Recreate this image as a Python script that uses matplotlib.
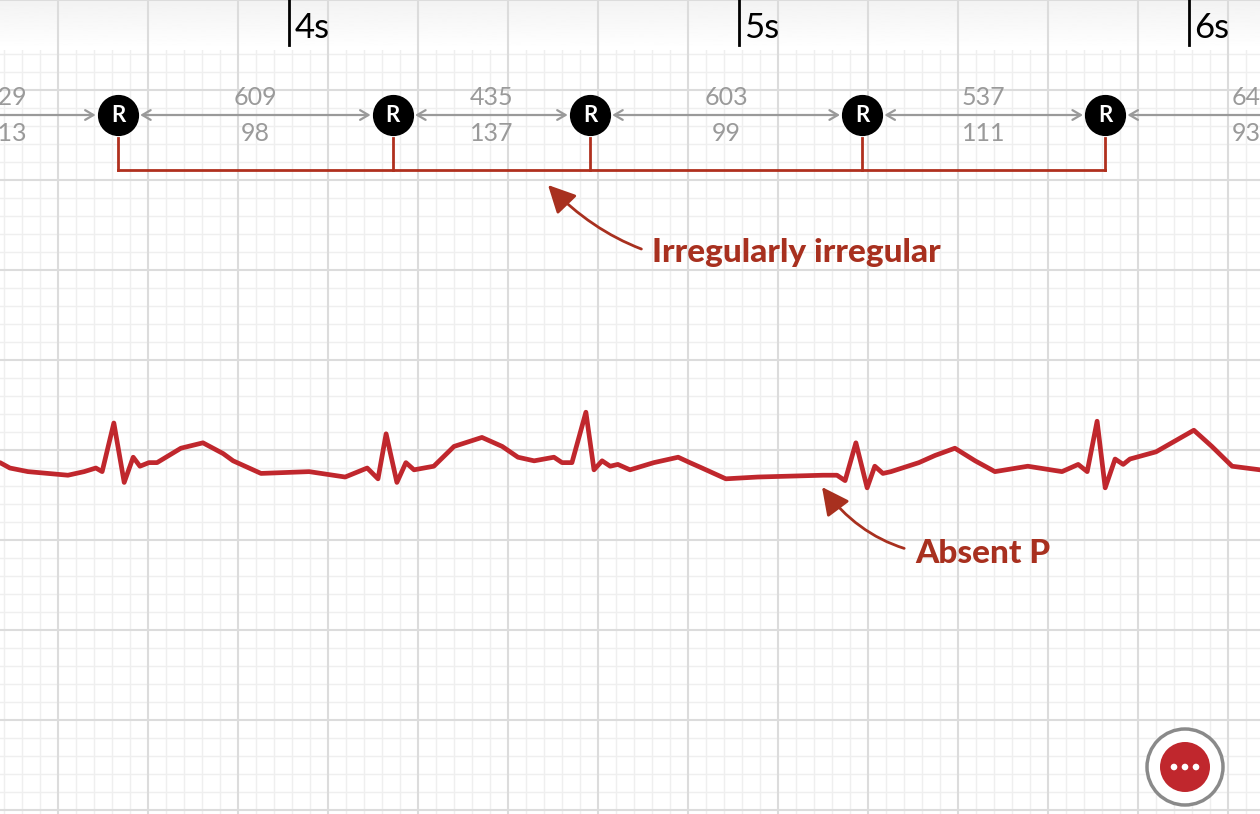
import matplotlib
matplotlib.use("Agg")
import matplotlib.pyplot as plt
import numpy as np

# ---- data ----
trace_t = [3.358,3.380,3.420,3.509,3.545,3.571,3.585,3.611,3.634,3.654,3.669,3.689,3.707,3.760,3.809,3.854,3.876,3.938,
           4.045,4.125,4.174,4.198,4.216,4.240,4.260,4.278,4.322,4.367,4.429,4.474,4.509,4.545,4.589,4.607,4.629,4.660,
           4.678,4.696,4.714,4.731,4.758,4.811,4.865,4.891,4.918,4.971,5.042,5.187,5.218,5.236,5.260,5.285,5.302,5.320,
           5.338,5.400,5.436,5.480,5.525,5.569,5.642,5.718,5.754,5.774,5.796,5.814,5.836,5.854,5.869,5.927,5.962,6.011,
           6.051,6.096,6.158]
trace_mv = [0.03,0.00,-0.02,-0.04,-0.02,0.00,-0.02,0.25,-0.08,0.06,0.01,0.03,0.03,0.11,0.14,0.08,0.04,-0.03,
            -0.02,-0.05,0.00,-0.06,0.19,-0.08,0.03,-0.01,0.01,0.12,0.17,0.12,0.06,0.04,0.06,0.03,0.03,0.31,
            -0.01,0.04,0.01,0.02,-0.01,0.03,0.06,0.03,0.00,-0.06,-0.05,-0.04,-0.04,-0.07,0.14,-0.11,0.01,-0.03,
            -0.02,0.03,0.07,0.11,0.04,-0.02,0.01,-0.02,0.02,-0.02,0.26,-0.11,0.05,0.02,0.05,0.09,0.14,0.21,
            0.12,0.01,-0.01]
r_times = [3.620, 4.231, 4.669, 5.274, 5.814]
interval_ms = ["609", "435", "603", "537"]
interval_bpm = ["98", "137", "99", "111"]
left_ms, left_bpm = "529", "113"
right_ms, right_bpm = "649", "93"
sec_ticks = [4, 5, 6]
sec_labels = ["4s", "5s", "6s"]

X0, X1 = 3.358, 6.158
Y0, Y1 = -1.922, 2.6
RED = "#c0272d"
DARK = "#a8301f"
GRAY = "#9a9a9a"

fig = plt.figure(figsize=(12.6, 8.14), dpi=100)
ax = fig.add_axes([0, 0, 1, 1])
ax.set_xlim(X0, X1); ax.set_ylim(Y0, Y1); ax.axis("off")

# grid
gx0 = 3.487
for k in range(-10, 80):
    x = gx0 + 0.04 * k
    if X0 <= x <= X1:
        major = k % 5 == 0
        ax.axvline(x, color="#dcdcdc" if major else "#efefef", lw=1.5 if major else 1.0, zorder=1 if major else 0)
for k in range(-20, 60):
    y = 2.6 - 0.1 * k
    if Y0 <= y <= Y1:
        major = k % 5 == 0
        ax.axhline(y, color="#dcdcdc" if major else "#efefef", lw=1.5 if major else 1.0, zorder=1 if major else 0)

# top shading band
grad = np.linspace(0.05, 0.0, 50).reshape(-1, 1)
ax.imshow(1 - grad, extent=[X0, X1, 2.6 - 50/180, 2.6], cmap="gray", vmin=0, vmax=1,
          aspect="auto", zorder=0.5)

# second ticks
for s, lab in zip(sec_ticks, sec_labels):
    ax.plot([s, s], [2.6, 2.6 - 45/180], color="black", lw=2, zorder=5)
    ax.text(s + 0.012, 2.6 - 28/180, lab, fontsize=25, family="Lato", va="center", ha="left", zorder=5)

# ECG trace
ax.plot(trace_t, trace_mv, color=RED, lw=3.4, solid_joinstyle="round", solid_capstyle="round", zorder=4)

# R markers
ry = (468 - 115) / 180
ax.scatter(r_times, [ry] * len(r_times), s=820, color="black", zorder=6)
for t in r_times:
    ax.text(t, ry, "R", color="white", fontsize=16, fontweight="bold", family="Lato",
            ha="center", va="center", zorder=7)

NUMFS = 18
ap = dict(arrowstyle="<->,head_length=0.6,head_width=0.35", color=GRAY, lw=1.6, shrinkA=16, shrinkB=16)
for i in range(len(r_times) - 1):
    a, b = r_times[i], r_times[i + 1]
    ax.annotate("", xy=(b, ry), xytext=(a, ry), arrowprops=ap, zorder=3)
    m = (a + b) / 2
    ax.text(m, ry + 18/180, interval_ms[i], color=GRAY, fontsize=NUMFS, family="Lato", ha="center", va="center")
    ax.text(m, ry - 18/180, interval_bpm[i], color=GRAY, fontsize=NUMFS, family="Lato", ha="center", va="center")
apl = dict(arrowstyle="->,head_length=0.6,head_width=0.35", color=GRAY, lw=1.6, shrinkA=0, shrinkB=16)
ax.annotate("", xy=(r_times[0], ry), xytext=(X0, ry), arrowprops=apl, zorder=3)
ax.annotate("", xy=(X1, ry), xytext=(r_times[-1], ry),
            arrowprops=dict(arrowstyle="<-,head_length=0.6,head_width=0.35", color=GRAY, lw=1.6, shrinkA=16, shrinkB=0), zorder=3)
ax.text(X0 + 27/450, ry + 18/180, left_ms, color=GRAY, fontsize=NUMFS, family="Lato", ha="right", va="center")
ax.text(X0 + 27/450, ry - 18/180, left_bpm, color=GRAY, fontsize=NUMFS, family="Lato", ha="right", va="center")
ax.text(X1 - 28/450, ry + 18/180, right_ms, color=GRAY, fontsize=NUMFS, family="Lato", ha="left", va="center")
ax.text(X1 - 28/450, ry - 18/180, right_bpm, color=GRAY, fontsize=NUMFS, family="Lato", ha="left", va="center")

# bracket
btop = (468 - 138) / 180
bbot = (468 - 170) / 180
for t in r_times:
    ax.plot([t, t], [btop, bbot], color="#b0301e", lw=2, zorder=3)
ax.plot([r_times[0], r_times[-1]], [bbot, bbot], color="#b0301e", lw=2, zorder=3, solid_capstyle="projecting")

# annotations
ax.annotate("Irregularly irregular", xy=(X0 + 548/450, (468 - 185)/180), xytext=(X0 + 652/450, (468 - 252)/180),
            color=DARK, fontsize=24, fontweight="black", family="Lato", ha="left", va="center",
            arrowprops=dict(arrowstyle="-|>,head_length=0.7,head_width=0.35", color=DARK, lw=2,
                            connectionstyle="arc3,rad=-0.3", shrinkA=6, shrinkB=0), zorder=8)
ax.annotate("Absent P", xy=(X0 + 822/450, (468 - 487)/180), xytext=(X0 + 915/450, (468 - 553)/180),
            color=DARK, fontsize=24, fontweight="black", family="Lato", ha="left", va="center",
            arrowprops=dict(arrowstyle="-|>,head_length=0.7,head_width=0.35", color=DARK, lw=2,
                            connectionstyle="arc3,rad=-0.3", shrinkA=6, shrinkB=0), zorder=8)

# button (figure pixel coords)
ov = fig.add_axes([0, 0, 1, 1]); ov.set_xlim(0, 1260); ov.set_ylim(814, 0); ov.axis("off")
ov.add_patch(plt.Circle((1185, 767), 38, facecolor="white", edgecolor="#8a8a8a", lw=2.5))
ov.add_patch(plt.Circle((1185, 767), 25, facecolor="#c0272d", edgecolor="none"))
for dx in (-11, 0, 11):
    ov.add_patch(plt.Circle((1185 + dx, 767), 3.3, facecolor="white", edgecolor="none"))

fig.savefig("out.png", dpi=100)
